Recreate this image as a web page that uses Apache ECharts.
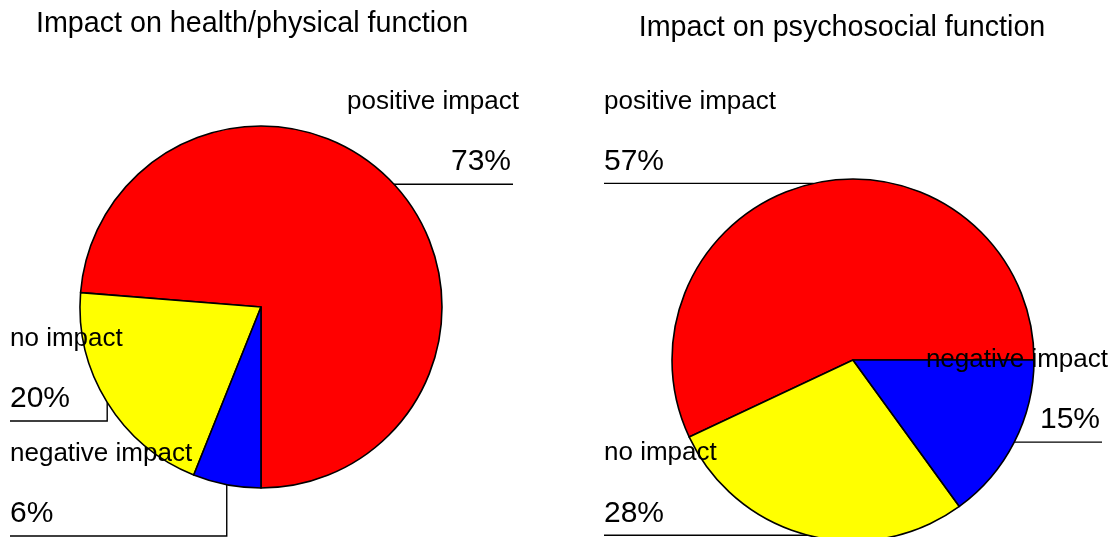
<!DOCTYPE html>
<html>
<head>
<meta charset="utf-8">
<script src="https://cdn.jsdelivr.net/npm/echarts@6/dist/echarts.min.js"></script>
<style>
html,body{margin:0;padding:0;background:#fff;}
#chart{width:1115px;height:537px;}
</style>
</head>
<body>
<div id="chart"></div>
<script>
// ---- data ----
const chartTitles = ['Impact on health/physical function', 'Impact on psychosocial function'];
const categories = ['positive impact', 'no impact', 'negative impact'];
const healthValues = [73, 20, 6];
const psychoValues = [57, 28, 15];
const sliceColors = ['#FF0000', '#FFFF00', '#0000FF'];

// ---- layout (label placement, R-style) ----
const FONT = "'Liberation Sans', Arial, Helvetica, sans-serif";
const labelSpots = [
  [ {align: 'right', lineEnd: 513}, {align: 'left', lineEnd: 10, lineY: 421}, {align: 'left', lineEnd: 10, lineY: 536} ],
  [ {align: 'left', lineEnd: 604}, {align: 'left', lineEnd: 604}, {align: 'right', lineEnd: 1102} ]
];

function buildData(values) {
  return categories.map((c, i) => ({ name: c, value: values[i], itemStyle: { color: sliceColors[i] } }));
}

function makeLayout(seriesIdx) {
  return function (params) {
    const s = labelSpots[seriesIdx][params.dataIndex];
    const p0 = params.labelLinePoints ? params.labelLinePoints[0] : [0, 0];
    const lineY = (s.lineY != null) ? s.lineY : p0[1];
    const right = s.align === 'right';
    return {
      x: right ? s.lineEnd + 6 : s.lineEnd,
      y: lineY + 8,
      align: s.align,
      verticalAlign: 'bottom',
      hideOverlap: false,
      labelLinePoints: [[p0[0], p0[1]], [p0[0], lineY], [s.lineEnd, lineY]]
    };
  };
}

function pieSeries(values, center, startAngle, idx) {
  return {
    type: 'pie',
    center: center,
    radius: 181,
    startAngle: startAngle,
    clockwise: false,
    avoidLabelOverlap: false,
    animation: false,
    silent: true,
    itemStyle: { borderColor: '#000', borderWidth: 1.6 },
    label: {
      show: true,
      position: 'outside',
      formatter: p => '{n|' + p.name + '}\n{p|' + p.value + '%}',
      rich: {
        n: { fontFamily: FONT, fontSize: 26, lineHeight: 60, color: '#000' },
        p: { fontFamily: FONT, fontSize: 30, lineHeight: 60, color: '#000', padding: [0, 8, 0, 0] }
      }
    },
    labelLine: { show: true, length: 5, length2: 5, smooth: false, lineStyle: { color: '#000', width: 1.4 } },
    labelLayout: makeLayout(idx),
    data: buildData(values)
  };
}

const chart = echarts.init(document.getElementById('chart'), null, { renderer: 'canvas' });
chart.setOption({
  backgroundColor: '#fff',
  animation: false,
  title: [
    { text: chartTitles[0], left: 252, top: 10, textAlign: 'center', padding: 0,
      textStyle: { fontFamily: FONT, fontSize: 28.7, fontWeight: 'normal', color: '#000' } },
    { text: chartTitles[1], left: 842, top: 14, textAlign: 'center', padding: 0,
      textStyle: { fontFamily: FONT, fontSize: 28.7, fontWeight: 'normal', color: '#000' } }
  ],
  series: [
    pieSeries(healthValues, [261, 307], 270, 0),
    pieSeries(psychoValues, [853, 360], 0, 1)
  ]
});
</script>
</body>
</html>
